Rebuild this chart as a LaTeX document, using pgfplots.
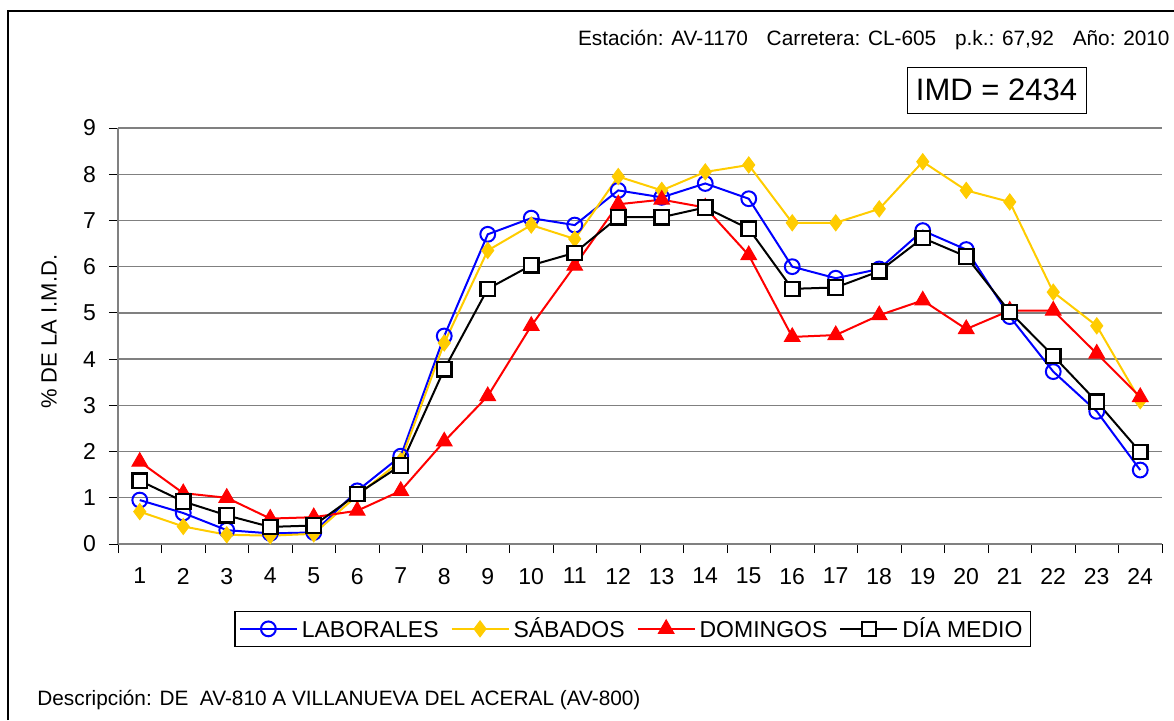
\documentclass[border=0pt]{standalone}
\usepackage{fontspec}
\setmainfont{Liberation Sans}
\usepackage{pgfplots}
\pgfplotsset{compat=1.18}
\definecolor{sabado}{RGB}{255,204,0}
\definecolor{gridgray}{RGB}{128,128,128}

\pgfplotstableread{
h lab sab dom med
1  0.95 0.70 1.78 1.37
2  0.67 0.38 1.10 0.92
3  0.30 0.20 1.00 0.62
4  0.23 0.18 0.55 0.37
5  0.25 0.22 0.58 0.40
6  1.15 1.05 0.72 1.08
7  1.90 1.80 1.15 1.70
8  4.50 4.35 2.22 3.78
9  6.70 6.35 3.20 5.52
10 7.05 6.90 4.72 6.03
11 6.90 6.60 6.02 6.30
12 7.65 7.95 7.35 7.07
13 7.50 7.65 7.45 7.07
14 7.80 8.05 7.28 7.28
15 7.47 8.20 6.25 6.82
16 6.00 6.95 4.48 5.52
17 5.75 6.95 4.52 5.55
18 5.95 7.25 4.95 5.90
19 6.78 8.27 5.27 6.62
20 6.37 7.65 4.65 6.22
21 4.92 7.40 5.05 5.02
22 3.73 5.45 5.05 4.07
23 2.87 4.72 4.12 3.08
24 1.60 3.10 3.18 1.99
}\imd

\begin{document}
\begin{tikzpicture}
\useasboundingbox (0,0) rectangle (587pt,360pt);
% marco exterior (solo se ven los lados superior e izquierdo)
\draw[black, line width=0.6pt] (4pt,0) -- (4pt,354.5pt) -- (587pt,354.5pt);

\begin{axis}[
    at={(59pt,88pt)}, anchor=south west,
    scale only axis, width=522pt, height=208pt,
    xmin=0.5, xmax=24.5, ymin=0, ymax=9,
    axis x line*=bottom, axis y line*=left,
    axis line style={gridgray, line width=0.7pt},
    xtick={0.5,1.5,...,24.5},
    x tick label as interval,
    xticklabels={1,2,3,4,5,6,7,8,9,10,11,12,13,14,15,16,17,18,19,20,21,22,23,24},
    ytick={0,1,...,9},
    tick align=outside,
    major tick length=4.5pt,
    tick style={black, line width=0.5pt},
    ymajorgrids, grid style={gridgray, line width=0.7pt},
    /pgf/number format/assume math mode=true,
    tick label style={font=\fontsize{11.5}{13}\selectfont},
    xticklabel style={yshift=-4pt},
    yticklabel style={xshift=-3pt},
    ylabel={\% DE LA I.M.D.},
    ylabel style={font=\fontsize{11}{13}\selectfont, at={(axis description cs:-0.066,0.51)}, anchor=center},
    legend columns=4,
    legend style={at={(0.493,-0.204)}, anchor=center, draw=black, line width=0.6pt,
        font=\fontsize{11.5}{13}\selectfont, inner xsep=2pt, inner ysep=1pt,
        /tikz/every even column/.append style={column sep=4pt}},
    legend image code/.code={\draw[mark repeat=2, mark phase=2] plot coordinates {(0cm,0cm) (0.5cm,0cm) (1cm,0cm)};},
    every axis plot/.append style={line width=1pt},
]
\addplot[blue, mark=o, mark size=3.7pt, mark options={fill=white, line width=1pt}] table[x=h, y=lab] {\imd};
\addlegendentry{\vphantom{ÁÍ}LABORALES}
\addplot[sabado, mark=diamond*, mark size=4pt, mark options={line width=0.5pt}] table[x=h, y=sab] {\imd};
\addlegendentry{\vphantom{ÁÍ}SÁBADOS}
\addplot[red, mark=triangle*, mark size=4.5pt, mark options={line width=0.5pt}] table[x=h, y=dom] {\imd};
\addlegendentry{\vphantom{ÁÍ}DOMINGOS}
\addplot[black, mark=square*, mark size=3.6pt, mark options={fill=white, line width=1.1pt}] table[x=h, y=med] {\imd};
\addlegendentry{\vphantom{ÁÍ}DÍA MEDIO}
\end{axis}

\node[anchor=east, font=\fontsize{10.4}{12}\selectfont, inner sep=0pt] at (585pt,340pt)
  {Estación: AV-1170\hspace{0.9em}Carretera: CL-605\hspace{0.9em}p.k.: 67,92\hspace{0.9em}Año: 2010};
\node[draw=black, line width=0.5pt, minimum width=89.5pt, minimum height=23pt, inner sep=0pt,
      font=\fontsize{15.5}{17}\selectfont] at (498.25pt,315pt) {IMD = 2434};
\node[anchor=west, font=\fontsize{10.4}{12}\selectfont, inner sep=0pt] at (18.5pt,10pt)
  {Descripción: DE\ \ AV-810 A VILLANUEVA DEL ACERAL (AV-800)};
\end{tikzpicture}
\end{document}
